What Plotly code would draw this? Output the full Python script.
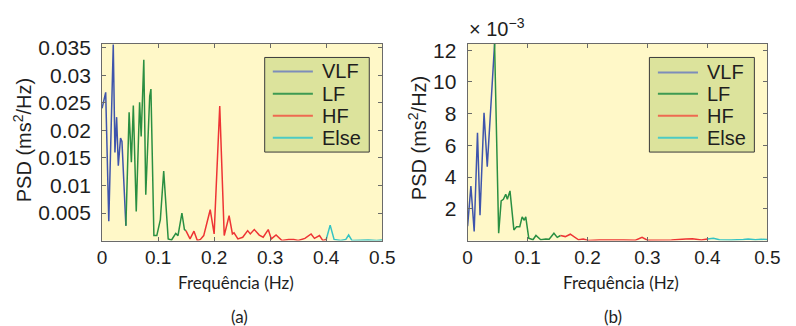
import plotly.graph_objects as go

# ---------------- data (a) ----------------
vlf_a_f = [0, 0.0065, 0.012, 0.02, 0.023, 0.026, 0.029, 0.033, 0.0355, 0.0425]
vlf_a_p = [0.024, 0.0269, 0.0035, 0.0356, 0.016, 0.0224, 0.0136, 0.0186, 0.018, 0.0027]

lf_a_f = [0.0425, 0.0483, 0.0523, 0.0558, 0.061, 0.067, 0.0698, 0.0715, 0.0745, 0.078,
          0.085, 0.0872, 0.0925, 0.0977, 0.104, 0.110, 0.118, 0.124, 0.1315, 0.1355,
          0.1425, 0.147, 0.1496]
lf_a_p = [0.0027, 0.0233, 0.0142, 0.0245, 0.0053, 0.0251, 0.0189, 0.023, 0.0328, 0.0083,
          0.0262, 0.0275, 0.0009, 0.0009, 0.0038, 0.0126, 0.0003, 0.0001, 0.0013, 0.0009,
          0.005, 0.002, 0.0018]

hf_a_f = [0.1496, 0.157, 0.164, 0.170, 0.1755, 0.1814, 0.193, 0.2, 0.210, 0.218,
          0.2267, 0.2326, 0.2355, 0.2424, 0.251, 0.2598, 0.2645, 0.2716, 0.2805, 0.2875,
          0.2965, 0.302, 0.3105, 0.321, 0.333, 0.342, 0.35, 0.362, 0.373, 0.379,
          0.388, 0.394, 0.4]
hf_a_p = [0.0018, 0.0003, 0.0017, 0.0, 0.0002, 0.0009, 0.0056, 0.0012, 0.0244, 0.0009,
          0.0045, 0.0012, 0.0014, 0.0003, 0.0006, 0.0018, 0.0012, 0.002, 0.001, 0.0006,
          0.002, 0.0003, 0.001, 0.0, 0.0002, 0.0002, 0.0, 0.0004, 0.0012, 0.0004,
          0.0009, 0.0, 0.0002]

else_a_f = [0.4, 0.407, 0.414, 0.426, 0.435, 0.44, 0.446, 0.46, 0.475, 0.49, 0.5]
else_a_p = [0.0002, 0.0028, 0.0002, 0.0, 0.0002, 0.001, 0.0, 0.0001, 0.0001, 0.0, 0.0001]

# ---------------- data (b), units of 1e-3 ms^2/Hz ----------------
vlf_b_f = [0, 0.0055, 0.011, 0.0165, 0.0207, 0.0274, 0.0328, 0.045]
vlf_b_p = [0.9, 3.43, 0.57, 6.8, 1.6, 8.05, 4.66, 12.4]

lf_b_f = [0.045, 0.0518, 0.056, 0.0597, 0.0636, 0.0663, 0.0707, 0.0772, 0.0816, 0.087,
          0.091, 0.0945, 0.097, 0.102, 0.109, 0.114, 0.122, 0.1305, 0.136, 0.144,
          0.1495, 0.155]
lf_b_p = [12.4, 0.46, 2.5, 2.6, 2.92, 2.6, 3.13, 0.67, 0.87, 0.87,
          1.49, 1.28, 1.49, 0.15, 0.05, 0.32, 0.05, 0.1, 0.08, 0.46,
          0.2, 0.32]

hf_b_f = [0.155, 0.163, 0.1713, 0.177, 0.185, 0.193, 0.2015, 0.22, 0.24, 0.26,
          0.28, 0.291, 0.30, 0.32, 0.34, 0.364, 0.375, 0.39, 0.4]
hf_b_p = [0.32, 0.25, 0.4, 0.25, 0.05, 0.1, 0.0, 0.03, 0.01, 0.03,
          0.02, 0.2, 0.02, 0.03, 0.04, 0.1, 0.12, 0.04, 0.1]

else_b_f = [0.4, 0.41, 0.42, 0.44, 0.46, 0.468, 0.48, 0.49, 0.5]
else_b_p = [0.1, 0.15, 0.05, 0.03, 0.06, 0.1, 0.05, 0.08, 0.06]

x_ticks = [0, 0.1, 0.2, 0.3, 0.4, 0.5]
x_ticktext = ["0", "0.1", "0.2", "0.3", "0.4", "0.5"]
ya_ticks = [0.005, 0.01, 0.015, 0.02, 0.025, 0.03, 0.035]
ya_ticktext = ["0.005", "0.01", "0.015", "0.02", "0.025", "0.03", "0.035"]
yb_ticks = [2, 4, 6, 8, 10, 12]
yb_ticktext = ["2", "4", "6", "8", "10", "12"]

names = ["VLF", "LF", "HF", "Else"]
colors = ["#3E54AC", "#2A8F42", "#EE3434", "#35C3C3"]
legend_colors = ["#7D8DBA", "#3E9A52", "#EE6A50", "#4CCBC4"]

fig = go.Figure()
sets_a = [(vlf_a_f, vlf_a_p), (lf_a_f, lf_a_p), (hf_a_f, hf_a_p), (else_a_f, else_a_p)]
sets_b = [(vlf_b_f, vlf_b_p), (lf_b_f, lf_b_p), (hf_b_f, hf_b_p), (else_b_f, else_b_p)]
for (f, p), n, c in zip(sets_a, names, colors):
    fig.add_trace(go.Scatter(x=f, y=p, mode="lines", name=n, line=dict(color=c, width=1.5),
                             xaxis="x", yaxis="y", showlegend=False))
for (f, p), n, c in zip(sets_b, names, colors):
    fig.add_trace(go.Scatter(x=f, y=p, mode="lines", name=n, line=dict(color=c, width=1.5),
                             xaxis="x2", yaxis="y2", showlegend=False))

W, H = 796, 326
axcol = "#6a6a6a"
tickfont_x = dict(family="Liberation Sans, Arial", size=19, color="#1e1e1e")
tickfont_y = dict(family="Liberation Sans, Arial", size=21, color="#1e1e1e")
common_x = dict(range=[0, 0.5], tickvals=x_ticks, ticktext=x_ticktext, ticks="inside",
                ticklen=4, tickcolor=axcol, showline=True, linecolor=axcol, linewidth=1,
                mirror="ticks", showgrid=False, zeroline=False, tickfont=tickfont_x)
common_y = dict(ticks="inside", ticklen=4, tickcolor=axcol, showline=True, linecolor=axcol,
                linewidth=1, mirror="ticks", showgrid=False, zeroline=False, tickfont=tickfont_y,
                ticklabelstandoff=6)

ydom = [1 - 238.4 / H, 1 - 36.8 / H]

fig.update_layout(
    width=W, height=H, margin=dict(l=0, r=0, t=0, b=0),
    paper_bgcolor="white", plot_bgcolor="#FFF8C8",
    xaxis=dict(domain=[99.3 / W, 386 / W], anchor="y", **common_x),
    yaxis=dict(domain=ydom, anchor="x", range=[0, 0.0357], tickvals=ya_ticks,
               ticktext=ya_ticktext, **common_y),
    xaxis2=dict(domain=[473.3 / W, 780 / W], anchor="y2", **common_x),
    yaxis2=dict(domain=ydom, anchor="x2", range=[0, 12.4], tickvals=yb_ticks,
                ticktext=yb_ticktext, **common_y),
    showlegend=False,
)

# ---- hand-drawn legends (box, line samples, labels) ----
def px_x(v):
    return v / W

def px_y(v):
    return 1 - v / H

shapes = []
anns = []
legend_font = dict(family="Liberation Sans, Arial", size=20, color="#1e1e1e")
for (bx0, bx1, lx0, lx1, tx, rows) in [
    (265.7, 372.7, 274, 315, 322, [65, 88, 110.5, 133]),
    (659.3, 766.7, 668, 709, 716, [66, 88, 110.5, 133]),
]:
    shapes.append(dict(type="rect", xref="paper", yref="paper",
                       x0=px_x(bx0), x1=px_x(bx1), y0=px_y(147.7), y1=px_y(50.7),
                       fillcolor="#DCE39C", line=dict(color="#3a3a3a", width=1)))
    for ry, n, c in zip(rows, names, legend_colors):
        shapes.append(dict(type="line", xref="paper", yref="paper",
                           x0=px_x(lx0), x1=px_x(lx1), y0=px_y(ry), y1=px_y(ry),
                           line=dict(color=c, width=2)))
        anns.append(dict(x=px_x(tx), y=px_y(ry), text=n, xanchor="left", yanchor="middle",
                         font=legend_font))

ann_font_big = dict(family="Liberation Sans, Arial", size=20, color="#1e1e1e")
ann_font_small = dict(family="Lato, Open Sans", size=17, color="#1e1e1e")
anns += [
    dict(x=18 / W, y=1 - 136 / H, text="PSD (ms<sup>2</sup>/Hz)", textangle=-90, font=ann_font_big),
    dict(x=422 / W, y=1 - 133 / H, text="PSD (ms<sup>2</sup>/Hz)", textangle=-90, font=ann_font_big),
    dict(x=473 / W, y=1 - 20 / H, text="\u00d7 10<sup>\u22123</sup>", xanchor="left", font=ann_font_big),
    dict(x=236 / W, y=1 - 281 / H, text="Frequência (Hz)", font=ann_font_small),
    dict(x=630 / W, y=1 - 281 / H, text="Frequência (Hz)", font=ann_font_small),
    dict(x=240 / W, y=1 - 316 / H, text="(a)", font=ann_font_small),
    dict(x=622 / W, y=1 - 316 / H, text="(b)", font=ann_font_small),
]
for a in anns:
    a.update(xref="paper", yref="paper", showarrow=False)
    a.setdefault("xanchor", "center")
    a.setdefault("yanchor", "middle")
fig.update_layout(annotations=anns, shapes=shapes)

fig.write_html("out.html")
